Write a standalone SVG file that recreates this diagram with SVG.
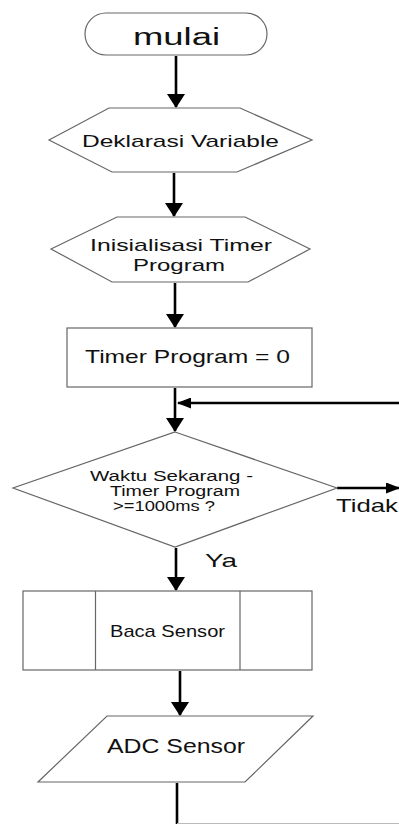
<svg xmlns="http://www.w3.org/2000/svg" width="399" height="824" viewBox="0 0 399 824">
<defs>
<style>
.sh{fill:#fff;stroke:#666;stroke-width:1.2}
.c{fill:none;stroke:#000;stroke-width:2.6}
.t{font-family:"Liberation Sans",Arial,sans-serif;fill:#111}
</style>
<marker id="ad" viewBox="0 0 14 18" refX="13" refY="9" markerWidth="14" markerHeight="18" markerUnits="userSpaceOnUse" orient="auto"><path d="M0,0 L14,9 L0,18 z" fill="#000"/></marker>
<marker id="as" viewBox="0 0 14 11" refX="13" refY="5.5" markerWidth="14" markerHeight="11" markerUnits="userSpaceOnUse" orient="auto"><path d="M0,0 L14,5.5 L0,11 z" fill="#000"/></marker>
</defs>
<rect width="399" height="824" fill="#fff"/>
<g id="connectors">
<path class="c" d="M176,56 V107" marker-end="url(#ad)"/>
<path class="c" d="M174,173 V216" marker-end="url(#ad)"/>
<path class="c" d="M175,283 V327" marker-end="url(#ad)"/>
<path class="c" d="M175,388 V431" marker-end="url(#ad)"/>
<path class="c" d="M399,403 H178" marker-end="url(#as)"/>
<path class="c" d="M337,488 H399" marker-end="url(#as)"/>
<path class="c" d="M176,548 V590" marker-end="url(#ad)"/>
<path class="c" d="M180,671 V715" marker-end="url(#ad)"/>
<path class="c" d="M177,783 V824"/>
<path d="M177,823.5 H399" stroke="#bbb" stroke-width="1" fill="none"/>
</g>
<g id="mulai">
<rect class="sh" x="85" y="13" width="182" height="42" rx="21"/>
<text class="t" x="133" y="45" font-size="23" textLength="87" lengthAdjust="spacingAndGlyphs">mulai</text>
</g>
<g id="deklarasi">
<polygon class="sh" points="49,140 109,108 240,108 312,140 237,172 112,172"/>
<text class="t" x="82" y="147" font-size="17" textLength="197" lengthAdjust="spacingAndGlyphs">Deklarasi Variable</text>
</g>
<g id="inisialisasi">
<polygon class="sh" points="51,249 117,217 245,217 310,249 248,282 112,282"/>
<text class="t" x="90" y="251" font-size="17" textLength="182" lengthAdjust="spacingAndGlyphs">Inisialisasi Timer</text>
<text class="t" x="133" y="271" font-size="17" textLength="92" lengthAdjust="spacingAndGlyphs">Program</text>
</g>
<g id="timer0">
<rect class="sh" x="67" y="328" width="245" height="59"/>
<text class="t" x="85" y="363" font-size="19" textLength="205" lengthAdjust="spacingAndGlyphs">Timer Program = 0</text>
</g>
<g id="decision">
<polygon class="sh" points="175,432 337,488 175,547 13,488"/>
<text class="t" x="90" y="481" font-size="14" textLength="163" lengthAdjust="spacingAndGlyphs">Waktu Sekarang -</text>
<text class="t" x="110" y="496" font-size="14" textLength="130" lengthAdjust="spacingAndGlyphs">Timer Program</text>
<text class="t" x="113" y="511" font-size="14" textLength="102" lengthAdjust="spacingAndGlyphs">&gt;=1000ms ?</text>
</g>
<g id="label-tidak">
<text class="t" x="336" y="512" font-size="18.5" textLength="62" lengthAdjust="spacingAndGlyphs">Tidak</text>
</g>
<g id="label-ya">
<text class="t" x="205" y="567" font-size="18.5" textLength="32" lengthAdjust="spacingAndGlyphs">Ya</text>
</g>
<g id="baca">
<rect class="sh" x="23" y="591" width="289" height="79"/>
<line class="sh" x1="95.5" y1="591" x2="95.5" y2="670"/>
<line class="sh" x1="240" y1="591" x2="240" y2="670"/>
<text class="t" x="110" y="637" font-size="17" textLength="115" lengthAdjust="spacingAndGlyphs">Baca Sensor</text>
</g>
<g id="adc">
<polygon class="sh" points="107,716 313,716 245,782 38,782"/>
<text class="t" x="107" y="753" font-size="19.5" textLength="138" lengthAdjust="spacingAndGlyphs">ADC Sensor</text>
</g>
</svg>
